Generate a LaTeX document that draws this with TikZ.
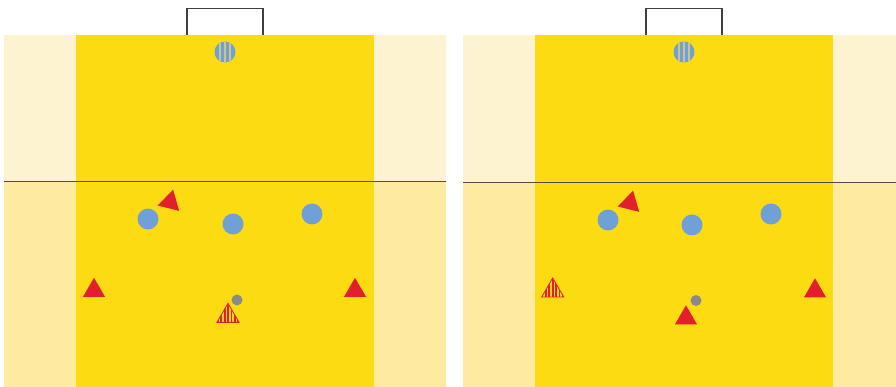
\documentclass[tikz,border=0pt]{standalone}
\usetikzlibrary{shapes.geometric}
\definecolor{pitchyel}{RGB}{252,219,18}
\definecolor{paletop}{RGB}{254,243,208}
\definecolor{palebot}{RGB}{254,235,160}
\definecolor{plblue}{RGB}{111,160,214}
\definecolor{plred}{RGB}{227,30,45}
\definecolor{ballgrey}{RGB}{138,138,138}
\definecolor{linecol}{RGB}{85,75,60}
\definecolor{stripecol}{RGB}{205,195,140}

\tikzset{
  blueplayer/.style={circle,fill=plblue,minimum size=21pt,inner sep=0pt},
  redplayer/.style={regular polygon,regular polygon sides=3,fill=plred,
                    minimum size=25.5pt,inner sep=0pt},
  keeper/.style={blueplayer,
    path picture={\foreach \k in {-1,0,1}
      \fill[stripecol]
        ([xshift=\k*5pt-1.1pt]path picture bounding box.south) rectangle
        ([xshift=\k*5pt+1.1pt]path picture bounding box.north);}},
  attacker/.style={regular polygon,regular polygon sides=3,draw=plred,
                   line width=0.8pt,fill=pitchyel,minimum size=25.5pt,inner sep=0pt,
    path picture={\foreach \k in {-3,...,3}
      \fill[plred]
        ([xshift=\k*3.4pt-0.9pt]path picture bounding box.south) rectangle
        ([xshift=\k*3.4pt+0.9pt]path picture bounding box.north);}},
  ball/.style={circle,fill=ballgrey,minimum size=11pt,inner sep=0pt}
}

\begin{document}
\begin{tikzpicture}[x=1pt,y=-1pt]
  \useasboundingbox (0,0) rectangle (896,387);
  \clip (0,0) rectangle (896,387);
  % two half pitches, the right one shifted by 459
  \foreach \ox/\ly in {0/181.5,459/182.5}{
    \fill[paletop] (\ox+4,35) rectangle (\ox+446,\ly);
    \fill[palebot] (\ox+4,\ly) rectangle (\ox+446,387);
    \fill[pitchyel] (\ox+76,35) rectangle (\ox+374,387);
    \draw[linecol,line width=1.2pt] (\ox+4,\ly) -- (\ox+446,\ly);
    \draw[black!75,line width=1.1pt,fill=white]
      (\ox+187,35) -- (\ox+187,8.5) -- (\ox+263,8.5) -- (\ox+263,35);
  }

  % left situation
  \node[keeper] (gkA) at (225,52) {};
  \node[redplayer,rotate=-14] (fwdA) at (170,202) {};
  \node[blueplayer] (defA1) at (148,219) {};
  \node[blueplayer] (defA2) at (233,224) {};
  \node[blueplayer] (defA3) at (312,214) {};
  \node[redplayer] (wingA1) at (94,290.5) {};
  \node[redplayer] (wingA2) at (355,290.5) {};
  \node[ball] (ballA) at (237,300) {};
  \node[attacker] (carA) at (228,316) {};

  % right situation
  \node[keeper] (gkB) at (684,52) {};
  \node[redplayer,rotate=-14] (fwdB) at (630,203) {};
  \node[blueplayer] (defB1) at (608,220) {};
  \node[blueplayer] (defB2) at (692,225) {};
  \node[blueplayer] (defB3) at (771,214) {};
  \node[attacker] (carB) at (552.7,290.7) {};
  \node[redplayer] (wingB) at (815,291) {};
  \node[ball] (ballB) at (696,300.5) {};
  \node[redplayer] (midB) at (686,318) {};
\end{tikzpicture}
\end{document}
